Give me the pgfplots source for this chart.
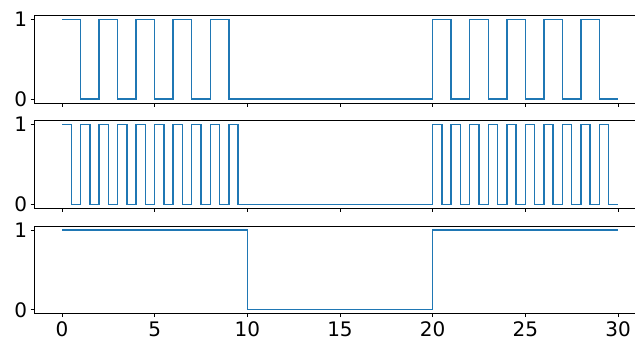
\documentclass[border=0pt]{standalone}
\usepackage{pgfplots}
\pgfplotsset{compat=1.18}
\usepackage{fontspec}
\setmainfont{DejaVu Sans}
\definecolor{c0}{HTML}{1F77B4}
\pgfplotsset{
  panel/.style={
    scale only axis, width=611.6pt, height=87.7pt,
    xmin=-1.5, xmax=31.5, ymin=-0.05, ymax=1.05,
    xtick={0,5,10,15,20,25,30}, ytick={0,1},
    xtick pos=bottom, ytick pos=left,
    tick align=outside, major tick length=3.5pt,
    every tick/.style={black, line width=0.8pt},
    axis line style={line width=0.8pt, black},
    /pgf/number format/assume math mode=true,
    tick label style={font=\fontsize{20}{24}\selectfont},
    xticklabel style={yshift=-1pt},
    anchor=north west,
  },
  sig/.style={c0, line width=1.5pt, const plot, no markers, line join=miter},
}
\begin{document}
\begin{tikzpicture}
\clip (0,0) rectangle (635pt,-341pt);
\useasboundingbox (0,0) rectangle (635pt,-341pt);
\begin{axis}[panel, at={(34.2pt,-15.3pt)}, xticklabels={}]
\addplot[sig] coordinates {(0,1)(1,0)(2,1)(3,0)(4,1)(5,0)(6,1)(7,0)(8,1)(9,0)(20,1)(21,0)(22,1)(23,0)(24,1)(25,0)(26,1)(27,0)(28,1)(29,0)(30,0)};
\end{axis}
\begin{axis}[panel, at={(34.2pt,-120.7pt)}, xticklabels={}]
\addplot[sig] coordinates {(0,1)(0.5,0)(1,1)(1.5,0)(2,1)(2.5,0)(3,1)(3.5,0)(4,1)(4.5,0)(5,1)(5.5,0)(6,1)(6.5,0)(7,1)(7.5,0)(8,1)(8.5,0)(9,1)(9.5,0)(20,1)(20.5,0)(21,1)(21.5,0)(22,1)(22.5,0)(23,1)(23.5,0)(24,1)(24.5,0)(25,1)(25.5,0)(26,1)(26.5,0)(27,1)(27.5,0)(28,1)(28.5,0)(29,1)(29.5,0)(30,0)};
\end{axis}
\begin{axis}[panel, at={(34.2pt,-226pt)}]
\addplot[sig] coordinates {(0,1)(10,0)(20,1)(30,1)};
\end{axis}
\end{tikzpicture}
\end{document}
